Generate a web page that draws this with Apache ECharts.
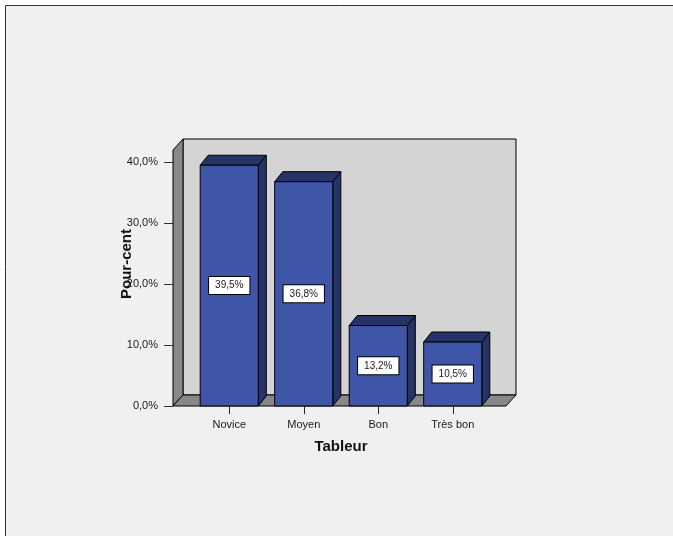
<!DOCTYPE html>
<html>
<head>
<meta charset="utf-8">
<script src="https://cdn.jsdelivr.net/npm/echarts@6/dist/echarts.min.js"></script>
<style>
  html, body { margin: 0; padding: 0; background: #ffffff; }
  #chart { width: 673px; height: 536px; }
</style>
</head>
<body>
<div id="chart"></div>
<script>
// Skill level in spreadsheets (Tableur), share of respondents in percent
const categories = ['Novice', 'Moyen', 'Bon', 'Très bon'];
const percents = [39.5, 36.8, 13.2, 10.5];
const yTickValues = [0, 10, 20, 30, 40];
const yMax = 42;

const FONT = '"Liberation Sans", Arial, sans-serif';
const fmtPct = v => v.toFixed(1).replace('.', ',') + '%';

// 3D look: depth offsets of the box walls and of each bar
const WALL_DX = 10, WALL_DY = 11;
const BAR_DX = 8, BAR_DY = 10;
const PAD_LEFT = 19, PAD_RIGHT = 16;

const chart = echarts.init(document.getElementById('chart'), null, { renderer: 'canvas' });

function renderFrame(params, api) {
  const cs = params.coordSys;
  const x0 = cs.x - PAD_LEFT;
  const x1 = cs.x + cs.width + PAD_RIGHT;
  const yT = cs.y;
  const yB = cs.y + cs.height;
  const edge = { stroke: '#000', lineWidth: 1 };
  return {
    type: 'group',
    children: [
      { // back wall
        type: 'polygon',
        shape: { points: [[x0 + WALL_DX, yT - WALL_DY], [x1 + WALL_DX, yT - WALL_DY], [x1 + WALL_DX, yB - WALL_DY], [x0 + WALL_DX, yB - WALL_DY]] },
        style: Object.assign({ fill: '#d4d4d4' }, edge)
      },
      { // left wall
        type: 'polygon',
        shape: { points: [[x0, yT], [x0 + WALL_DX, yT - WALL_DY], [x0 + WALL_DX, yB - WALL_DY], [x0, yB]] },
        style: Object.assign({ fill: '#888888' }, edge)
      },
      { // floor
        type: 'polygon',
        shape: { points: [[x0, yB], [x0 + WALL_DX, yB - WALL_DY], [x1 + WALL_DX, yB - WALL_DY], [x1, yB]] },
        style: Object.assign({ fill: '#888888' }, edge)
      }
    ]
  };
}

function renderBar(params, api) {
  const idx = api.value(0);
  const v = api.value(1);
  const top = api.coord([idx, v]);
  const base = api.coord([idx, 0]);
  const w = api.size([1, 0])[0] * 0.78;
  const xa = top[0] - w / 2, xb = top[0] + w / 2;
  const yT = top[1], yB = base[1];
  const edge = { stroke: '#000', lineWidth: 1 };
  return {
    type: 'group',
    children: [
      { // side face
        type: 'polygon',
        shape: { points: [[xb, yT], [xb + BAR_DX, yT - BAR_DY], [xb + BAR_DX, yB - BAR_DY], [xb, yB]] },
        style: Object.assign({ fill: '#253366' }, edge)
      },
      { // top face
        type: 'polygon',
        shape: { points: [[xa, yT], [xb, yT], [xb + BAR_DX, yT - BAR_DY], [xa + BAR_DX, yT - BAR_DY]] },
        style: Object.assign({ fill: '#253366' }, edge)
      },
      { // front face with value label
        type: 'rect',
        shape: { x: xa, y: yT, width: w, height: yB - yT },
        style: Object.assign({ fill: '#3e55a8' }, edge),
        textContent: {
          style: {
            text: fmtPct(v),
            fill: '#1a1a1a',
            font: '10px ' + FONT,
            backgroundColor: '#ffffff',
            borderColor: '#000',
            borderWidth: 1,
            padding: [4, 6, 3, 6]
          }
        },
        textConfig: { position: 'inside' }
      }
    ]
  };
}

const option = {
  animation: false,
  backgroundColor: 'transparent',
  graphic: [{
    type: 'rect',
    z: -100,
    silent: true,
    shape: { x: 5.5, y: 5.5, width: 700, height: 600 },
    style: { fill: '#f0f0f0', stroke: '#333', lineWidth: 1 }
  }],
  grid: { left: 192, right: 183, top: 150, bottom: 130 },
  xAxis: {
    type: 'category',
    data: categories,
    axisLine: { show: false },
    axisTick: { show: true, alignWithLabel: true, length: 8, lineStyle: { color: '#222' } },
    axisLabel: { margin: 13, fontSize: 11, color: '#1a1a1a', fontFamily: FONT },
    splitLine: { show: false },
    name: 'Tableur',
    nameLocation: 'middle',
    nameGap: 33,
    nameMoveOverlap: false,
    nameTextStyle: { fontSize: 15, fontWeight: 'bold', color: '#111', fontFamily: FONT }
  },
  yAxis: {
    type: 'value',
    min: 0,
    max: yMax,
    offset: PAD_LEFT,
    axisLine: { show: false },
    axisTick: { show: true, length: 9, customValues: yTickValues, lineStyle: { color: '#333' } },
    axisLabel: { customValues: yTickValues, formatter: v => fmtPct(v), margin: 15, fontSize: 11, color: '#1a1a1a', fontFamily: FONT },
    splitLine: { show: false },
    name: 'Pour-cent',
    nameLocation: 'middle',
    nameGap: 39,
    nameMoveOverlap: false,
    nameTextStyle: { fontSize: 15, fontWeight: 'bold', color: '#111', fontFamily: FONT, padding: [0, 0, 0, 28] }
  },
  series: [
    {
      type: 'custom',
      name: 'frame',
      silent: true,
      z: 1,
      renderItem: renderFrame,
      data: [[0, 0]]
    },
    {
      type: 'custom',
      name: 'Pour-cent',
      z: 2,
      renderItem: renderBar,
      encode: { x: 0, y: 1 },
      data: percents.map((v, i) => [i, v])
    }
  ]
};

chart.setOption(option);
</script>
</body>
</html>
